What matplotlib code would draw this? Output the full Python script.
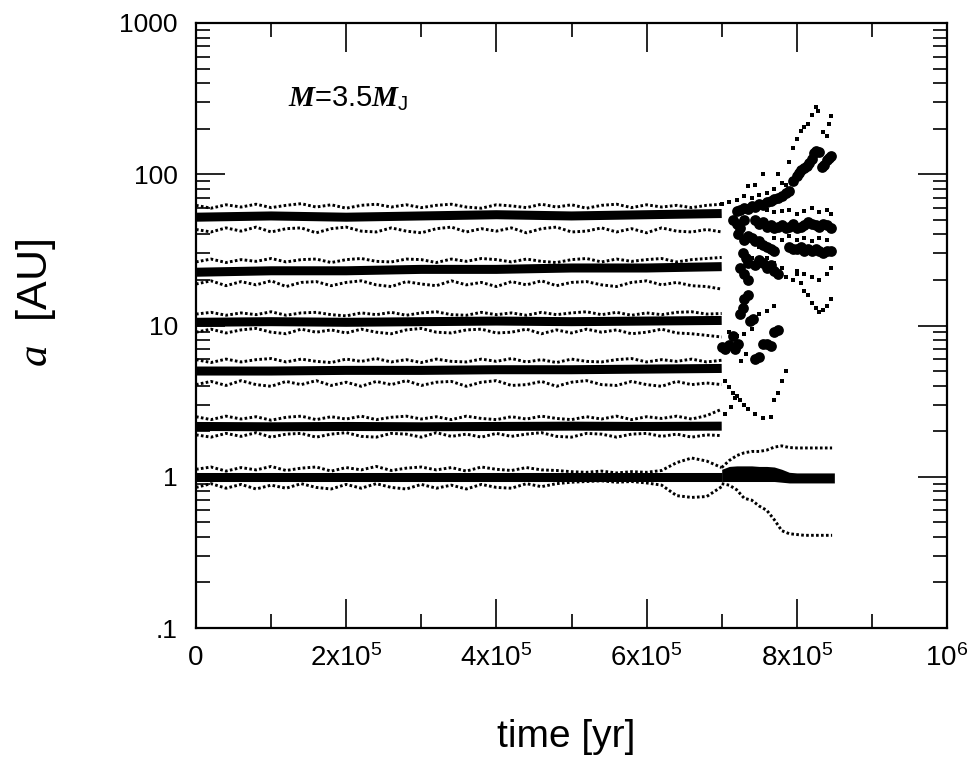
import matplotlib
matplotlib.use("Agg")
import matplotlib.pyplot as plt
from matplotlib.ticker import FixedLocator, FixedFormatter, NullFormatter

# ---------------- data ----------------
# stable-phase sample times (yr)
t_stable = [0, 20000, 40000, 60000, 80000, 100000, 120000, 140000, 160000, 180000,
            200000, 220000, 240000, 260000, 280000, 300000, 320000, 340000, 360000, 380000,
            400000, 420000, 440000, 460000, 480000, 500000, 520000, 540000, 560000, 580000,
            600000, 620000, 640000, 660000, 680000, 700000]
# semimajor axis band sample times (yr)
t_band = [0, 100000, 200000, 300000, 400000, 500000, 600000, 700000]

a1 = [1.0, 1.0, 1.0, 1.0, 1.0, 1.0, 1.0, 1.0]
a2 = [2.15, 2.14, 2.15, 2.14, 2.15, 2.16, 2.15, 2.16]
a3 = [5.0, 5.0, 5.05, 5.05, 5.1, 5.1, 5.15, 5.2]
a4 = [10.5, 10.6, 10.5, 10.6, 10.7, 10.6, 10.7, 10.8]
a5 = [22.5, 23.0, 23.0, 23.5, 23.5, 24.0, 24.0, 24.5]
a6 = [52, 53, 52, 53, 54, 53, 54, 55]

# apocentre / pericentre excursions (fraction of a)
e1_apo = [0.12, 0.16, 0.09, 0.15, 0.11, 0.17, 0.10, 0.14, 0.16, 0.09, 0.15, 0.11, 0.17, 0.10, 0.14, 0.16, 0.11, 0.15,
          0.09, 0.16, 0.12, 0.10, 0.15, 0.11, 0.10, 0.08, 0.07, 0.09, 0.06, 0.08, 0.07, 0.10, 0.24, 0.33, 0.27, 0.15]
e1_peri = [0.15, 0.10, 0.16, 0.11, 0.17, 0.12, 0.16, 0.10, 0.15, 0.17, 0.11, 0.16, 0.10, 0.15, 0.17, 0.11, 0.16, 0.12,
           0.17, 0.11, 0.15, 0.16, 0.10, 0.14, 0.10, 0.08, 0.07, 0.06, 0.08, 0.07, 0.09, 0.12, 0.25, 0.27, 0.26, 0.14]
e2_apo = [0.16, 0.11, 0.17, 0.12, 0.16, 0.10, 0.15, 0.17, 0.11, 0.16, 0.12, 0.17, 0.11, 0.15, 0.17, 0.12, 0.16, 0.11,
          0.17, 0.13, 0.11, 0.16, 0.12, 0.17, 0.13, 0.11, 0.16, 0.12, 0.17, 0.11, 0.16, 0.13, 0.17, 0.12, 0.18, 0.30]
e2_peri = [0.12, 0.15, 0.10, 0.14, 0.09, 0.15, 0.11, 0.10, 0.15, 0.11, 0.09, 0.14, 0.15, 0.10, 0.11, 0.15, 0.09, 0.14,
           0.11, 0.15, 0.10, 0.14, 0.11, 0.09, 0.14, 0.15, 0.10, 0.11, 0.15, 0.11, 0.10, 0.14, 0.11, 0.15, 0.12, 0.13]
e3_apo = [0.17, 0.12, 0.18, 0.13, 0.17, 0.19, 0.13, 0.18, 0.14, 0.12, 0.18, 0.14, 0.19, 0.13, 0.17, 0.12, 0.18, 0.14,
          0.13, 0.18, 0.14, 0.19, 0.13, 0.17, 0.12, 0.18, 0.14, 0.13, 0.17, 0.19, 0.13, 0.17, 0.14, 0.18, 0.13, 0.16]
e3_peri = [0.20, 0.16, 0.21, 0.15, 0.20, 0.22, 0.16, 0.20, 0.15, 0.21, 0.17, 0.22, 0.16, 0.20, 0.15, 0.21, 0.17, 0.16,
           0.22, 0.17, 0.15, 0.21, 0.20, 0.16, 0.22, 0.17, 0.15, 0.20, 0.21, 0.16, 0.20, 0.22, 0.16, 0.20, 0.18, 0.20]
e4_apo = [0.12, 0.15, 0.10, 0.14, 0.11, 0.16, 0.10, 0.14, 0.15, 0.11, 0.09, 0.14, 0.11, 0.15, 0.10, 0.14, 0.16, 0.11,
          0.10, 0.15, 0.11, 0.14, 0.10, 0.15, 0.11, 0.14, 0.16, 0.11, 0.15, 0.10, 0.14, 0.11, 0.15, 0.16, 0.12, 0.13]
e4_peri = [0.15, 0.11, 0.16, 0.12, 0.10, 0.15, 0.17, 0.11, 0.15, 0.12, 0.16, 0.11, 0.15, 0.17, 0.12, 0.10, 0.15, 0.16,
           0.12, 0.11, 0.16, 0.15, 0.11, 0.17, 0.12, 0.16, 0.11, 0.15, 0.12, 0.17, 0.15, 0.11, 0.16, 0.17, 0.19, 0.21]
e5_apo = [0.12, 0.17, 0.11, 0.16, 0.13, 0.18, 0.12, 0.16, 0.17, 0.11, 0.16, 0.18, 0.13, 0.12, 0.17, 0.16, 0.11, 0.17,
          0.13, 0.18, 0.16, 0.12, 0.17, 0.13, 0.11, 0.16, 0.18, 0.12, 0.17, 0.13, 0.16, 0.18, 0.12, 0.16, 0.18, 0.20]
e5_peri = [0.20, 0.16, 0.22, 0.17, 0.21, 0.16, 0.23, 0.18, 0.17, 0.22, 0.18, 0.16, 0.21, 0.23, 0.17, 0.20, 0.22, 0.16,
           0.21, 0.18, 0.23, 0.17, 0.21, 0.16, 0.22, 0.18, 0.17, 0.21, 0.23, 0.18, 0.16, 0.21, 0.18, 0.22, 0.23, 0.26]
e6_apo = [0.17, 0.12, 0.18, 0.14, 0.19, 0.13, 0.17, 0.20, 0.14, 0.18, 0.12, 0.17, 0.19, 0.14, 0.18, 0.13, 0.17, 0.19,
          0.14, 0.12, 0.18, 0.16, 0.13, 0.19, 0.14, 0.18, 0.12, 0.17, 0.19, 0.13, 0.18, 0.14, 0.17, 0.13, 0.17, 0.19]
e6_peri = [0.19, 0.22, 0.17, 0.21, 0.16, 0.22, 0.18, 0.17, 0.23, 0.18, 0.16, 0.21, 0.22, 0.17, 0.21, 0.23, 0.18, 0.16,
           0.22, 0.18, 0.21, 0.17, 0.23, 0.18, 0.16, 0.22, 0.21, 0.17, 0.22, 0.18, 0.23, 0.17, 0.21, 0.22, 0.19, 0.22]

# innermost planet after the instability
t_p1_late = [700000, 710000, 720000, 730000, 740000, 750000, 760000, 770000, 780000, 790000,
             800000, 810000, 820000, 830000, 840000, 850000]
p1_late_hi = [1.12, 1.17, 1.18, 1.18, 1.18, 1.17, 1.17, 1.16, 1.12, 1.07, 1.06, 1.06, 1.06, 1.06, 1.06, 1.06]
p1_late_lo = [0.93, 0.93, 0.93, 0.93, 0.93, 0.93, 0.93, 0.93, 0.92, 0.91, 0.91, 0.91, 0.91, 0.91, 0.91, 0.91]
t_p1_orb = [700000, 710000, 720000, 730000, 740000, 750000, 760000, 770000, 780000, 790000,
            800000, 810000, 820000, 830000, 840000, 847000]
p1_late_apo = [1.15, 1.28, 1.38, 1.44, 1.47, 1.47, 1.50, 1.57, 1.60, 1.56, 1.55, 1.55, 1.55, 1.55, 1.55, 1.55]
p1_late_peri = [0.90, 0.88, 0.82, 0.72, 0.70, 0.64, 0.60, 0.52, 0.44, 0.42, 0.415, 0.41, 0.41, 0.41, 0.41, 0.41]

# scattered planets after the instability: semimajor axes (big dots)
chaos_a_t = [720000, 725000, 730000, 735000, 740000, 745000, 750000, 755000, 760000, 765000,
             770000, 775000, 780000, 785000, 790000, 795000, 800000, 803000, 806000, 810000,
             813000, 816000, 820000, 823000, 826000, 829000, 833000, 836000, 840000, 843000, 846000,
             745000, 750000, 755000, 760000, 765000, 770000, 775000, 780000, 785000, 790000, 795000,
             800000, 805000, 810000, 815000, 820000, 825000, 830000, 835000, 840000, 845000,
             730000, 735000, 740000, 745000, 750000, 755000, 760000, 765000, 770000, 790000, 795000,
             800000, 805000, 810000, 815000, 820000, 825000, 830000, 835000, 840000, 845000,
             745000, 750000, 755000, 760000, 765000, 770000, 775000,
             715000, 720000, 725000, 730000, 722000, 728000, 732000, 735000, 725000, 730000, 735000,
             700000, 705000, 710000, 715000, 718000, 722000, 725000, 728000, 730000, 735000, 738000,
             742000, 745000, 750000, 755000, 760000, 765000, 770000, 775000]
chaos_a = [57, 58, 60, 59, 62, 61, 64, 63, 66, 67,
           69, 70, 72, 75, 78, 90, 98, 102, 106, 110,
           114, 118, 126, 138, 142, 140, 112, 115, 124, 128, 133,
           50, 47, 48, 45, 46, 44, 45, 46, 44, 45, 47,
           44, 45, 46, 48, 47, 46, 45, 47, 46, 44,
           37, 39, 38, 36, 36, 34, 33, 32, 31, 33, 32,
           32, 33, 31, 32, 31, 32, 31, 30, 31, 31,
           25, 27, 26, 24, 25, 23, 22,
           50, 47, 44, 50, 40, 30, 28, 26, 24, 22, 20,
           7.2, 7.0, 7.4, 8.5, 7.0, 7.6, 12, 13, 15, 16, 10.7,
           11, 6.0, 6.2, 7.5, 7.6, 7.3, 9.0, 9.4]

# pericentres / apocentres of the scattered planets (small dots)
chaos_q_t = [735000, 745000, 755000, 775000, 785000, 790000, 795000, 800000, 805000, 810000,
             815000, 820000, 825000, 828000, 835000, 840000, 843000, 845000,
             700000, 710000, 720000, 730000, 740000, 750000, 760000, 770000, 780000,
             760000, 770000, 780000, 790000, 800000, 810000, 820000, 830000, 840000, 845000,
             730000, 740000, 750000, 760000, 770000, 780000, 785000, 795000, 800000, 805000, 810000,
             815000, 820000, 825000, 830000, 835000, 840000, 845000,
             800000, 810000, 820000, 830000, 840000, 845000,
             770000, 780000, 790000, 800000, 810000, 820000, 830000, 840000,
             705000, 710000, 715000, 720000, 725000, 730000, 735000, 745000, 755000, 765000, 770000,
             775000, 780000, 785000,
             710000, 720000, 730000, 740000, 745000, 750000, 760000, 770000,
             705000, 712000, 718000, 726000, 733000]
chaos_q = [83, 85, 100, 100, 85, 120, 150, 171, 193, 205,
           214, 245, 278, 262, 190, 180, 215, 242,
           64, 66, 68, 72, 70, 73, 75, 80, 88,
           58, 56, 57, 58, 55, 57, 60, 56, 58, 55,
           30, 28, 33, 28, 26, 24, 21, 20, 22, 19, 17,
           16, 14, 13, 12.2, 12.6, 13.5, 15,
           23, 22, 21, 20, 22, 24,
           38, 37, 39, 37, 38, 36, 38, 37,
           4.3, 3.9, 3.6, 3.4, 3.2, 3.0, 2.8, 2.6, 2.45, 2.5, 3.2,
           3.6, 4.3, 5.0,
           9, 8.5, 8.8, 9.5, 11, 12, 12.5, 13.5,
           2.6, 2.9, 3.3, 5.8, 6.5]

x_ticks = [0, 200000, 400000, 600000, 800000, 1000000]
x_labels = ['0', r'2x10$^{5}$', r'4x10$^{5}$', r'6x10$^{5}$', r'8x10$^{5}$', r'10$^{6}$']
y_ticks = [0.1, 1, 10, 100, 1000]
y_labels = ['.1', '1', '10', '100', '1000']

# ---------------- figure ----------------
plt.rcParams['font.family'] = ['Liberation Sans', 'DejaVu Sans']
plt.rcParams['mathtext.fontset'] = 'custom'
plt.rcParams['mathtext.rm'] = 'Liberation Sans'
plt.rcParams['mathtext.sf'] = 'Liberation Sans'
plt.rcParams['mathtext.it'] = 'Liberation Serif:italic'
plt.rcParams['mathtext.bf'] = 'Liberation Serif:italic:bold'
plt.rcParams['mathtext.default'] = 'regular'

fig = plt.figure(figsize=(9.72, 7.63), dpi=100)
ax = fig.add_axes([196 / 972, 1 - 628 / 763, 751 / 972, 605 / 763])

band_lw = 6.5
dot_style = dict(color='black', ls=(0, (0.9, 0.8)), lw=2.1)

bands = [a1, a2, a3, a4, a5, a6]
apos = [e1_apo, e2_apo, e3_apo, e4_apo, e5_apo, e6_apo]
peris = [e1_peri, e2_peri, e3_peri, e4_peri, e5_peri, e6_peri]
for a, ea, ep in zip(bands, apos, peris):
    ax.plot(t_band, a, color='black', lw=band_lw, solid_capstyle='butt')
    a_mean = sum(a) / len(a)
    n = min(len(t_stable), len(ea), len(ep))
    ax.plot(t_stable[:n], [a_mean * (1 + v) for v in ea[:n]], **dot_style)
    ax.plot(t_stable[:n], [a_mean * (1 - v) for v in ep[:n]], **dot_style)

# innermost planet after instability
ax.fill_between(t_p1_late, p1_late_lo, p1_late_hi, color='black', lw=0)
ax.plot(t_p1_orb, p1_late_apo, **dot_style)
ax.plot(t_p1_orb, p1_late_peri, **dot_style)

# scattered planets
n = min(len(chaos_a_t), len(chaos_a))
ax.scatter(chaos_a_t[:n], chaos_a[:n], s=60, c='black', marker='o', lw=0)
n = min(len(chaos_q_t), len(chaos_q))
ax.scatter(chaos_q_t[:n], chaos_q[:n], s=9, c='black', marker='s', lw=0)

ax.set_yscale('log')
ax.set_xlim(0, 1e6)
ax.set_ylim(0.1, 1000)

ax.xaxis.set_major_locator(FixedLocator(x_ticks))
ax.xaxis.set_major_formatter(FixedFormatter(x_labels))
ax.xaxis.set_minor_locator(FixedLocator([100000, 300000, 500000, 700000, 900000]))
ax.yaxis.set_major_locator(FixedLocator(y_ticks))
ax.yaxis.set_major_formatter(FixedFormatter(y_labels))
minor_y = [m * d for d in (0.1, 1, 10, 100) for m in range(2, 10)]
ax.yaxis.set_minor_locator(FixedLocator(minor_y))
ax.yaxis.set_minor_formatter(NullFormatter())

ax.tick_params(which='both', direction='in', top=True, right=True, color='black')
ax.tick_params(which='major', length=21, width=1.2)
ax.tick_params(which='minor', length=10, width=1.2)
ax.tick_params(axis='x', which='major', labelsize=20, pad=12)
ax.tick_params(axis='y', which='major', labelsize=19, pad=13)
for s in ax.spines.values():
    s.set_linewidth(1.6)

fig.text(36 / 972, 1 - 303 / 763, r'$\mathit{a}$  [AU]', rotation=90, ha='center', va='center', fontsize=31)
fig.text(566 / 972, 1 - 737 / 763, 'time [yr]', ha='center', va='center', fontsize=28)
fig.text(288 / 972, 1 - 99 / 763, r'$\mathbf{M}$=3.5$\mathbf{M}_{\mathsf{J}}$', ha='left', va='center', fontsize=21)

fig.savefig('out.png', dpi=100)
